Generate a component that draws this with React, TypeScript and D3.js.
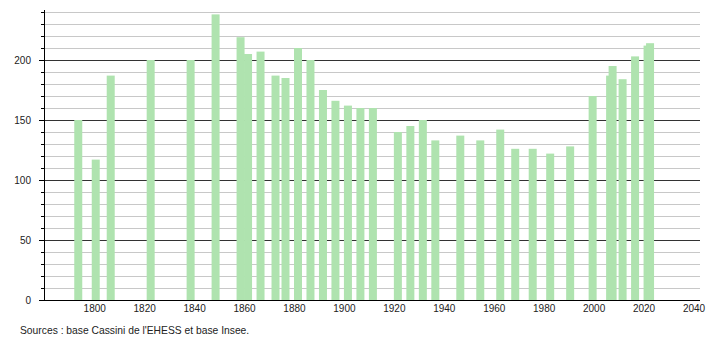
import React from "react";
import * as d3 from "d3";

const years = [
  1793, 1800, 1806, 1822, 1838, 1848, 1858, 1861, 1866, 1872, 1876, 1881, 1886,
  1891, 1896, 1901, 1906, 1911, 1921, 1926, 1931, 1936, 1946, 1954, 1962, 1968,
  1975, 1982, 1990, 1999, 2006, 2007, 2011, 2016, 2021, 2022,
];
const population = [
  150, 117, 187, 200, 200, 238, 219, 205, 207, 187, 185, 210, 200,
  175, 166, 162, 160, 160, 140, 145, 150, 133, 137, 133, 142, 126,
  126, 122, 128, 170, 187, 195, 184, 203, 212, 214,
];
const xTicks = [1800, 1820, 1840, 1860, 1880, 1900, 1920, 1940, 1960, 1980, 2000, 2020, 2040];
const yLabels = [0, 50, 100, 150, 200];
const sourceText = "Sources : base Cassini de l'EHESS et base Insee.";

const W = 710;
const H = 340;
const LEFT = 44;
const RIGHT = 700;
const BOTTOM = 300;
const FONT = "'Liberation Sans', Arial, Helvetica, sans-serif";

export default function App() {
  const x = d3.scaleLinear().domain([1780, 2042.4]).range([44.8, 700]);
  const y = d3.scaleLinear().domain([0, 240]).range([BOTTOM, 12]);
  const gridVals = d3.range(10, 241, 10);
  const tickVals = d3.range(0, 241, 10);
  const barW = 8;
  const data = years.map((yr, i) => ({ yr, v: population[i] }));

  return (
    <svg
      width={W}
      height={H}
      viewBox={`0 0 ${W} ${H}`}
      style={{ position: "absolute", left: 0, top: 0, background: "#fff" }}
      fontFamily={FONT}
    >
      <rect x={0} y={0} width={W} height={H} fill="#fff" />
      {gridVals.map((v) => (
        <line
          key={"g" + v}
          x1={LEFT}
          x2={RIGHT}
          y1={Math.round(y(v)) + 0.5}
          y2={Math.round(y(v)) + 0.5}
          stroke={v % 50 === 0 ? "#333" : "#c8c8c8"}
          strokeWidth={1}
        />
      ))}
      {data.map((d) => (
        <rect
          key={"b" + d.yr}
          x={x(d.yr + 0.4) - barW / 2}
          y={y(d.v)}
          width={barW}
          height={y(0) - y(d.v)}
          fill="#afe3af"
        />
      ))}
      {tickVals.map((v) => (
        <line
          key={"t" + v}
          x1={v % 50 === 0 ? LEFT - 5 : LEFT - 3}
          x2={LEFT}
          y1={Math.round(y(v)) + 0.5}
          y2={Math.round(y(v)) + 0.5}
          stroke="#000"
        />
      ))}
      <line x1={LEFT + 0.5} x2={LEFT + 0.5} y1={10} y2={BOTTOM + 0.5} stroke="#000" />
      <line x1={LEFT - 5} x2={RIGHT} y1={BOTTOM + 0.5} y2={BOTTOM + 0.5} stroke="#000" />
      {yLabels.map((v) => (
        <text
          key={"yl" + v}
          x={31}
          y={y(v)}
          dy="0.35em"
          textAnchor="end"
          fontSize={10}
          fill="#222"
        >
          {v}
        </text>
      ))}
      {xTicks.map((t) => (
        <text
          key={"xl" + t}
          x={x(t)}
          y={312}
          textAnchor="middle"
          fontSize={10}
          fill="#222"
        >
          {t}
        </text>
      ))}
      <text x={20} y={334} fontSize={10.3} fill="#222">
        {sourceText}
      </text>
    </svg>
  );
}
